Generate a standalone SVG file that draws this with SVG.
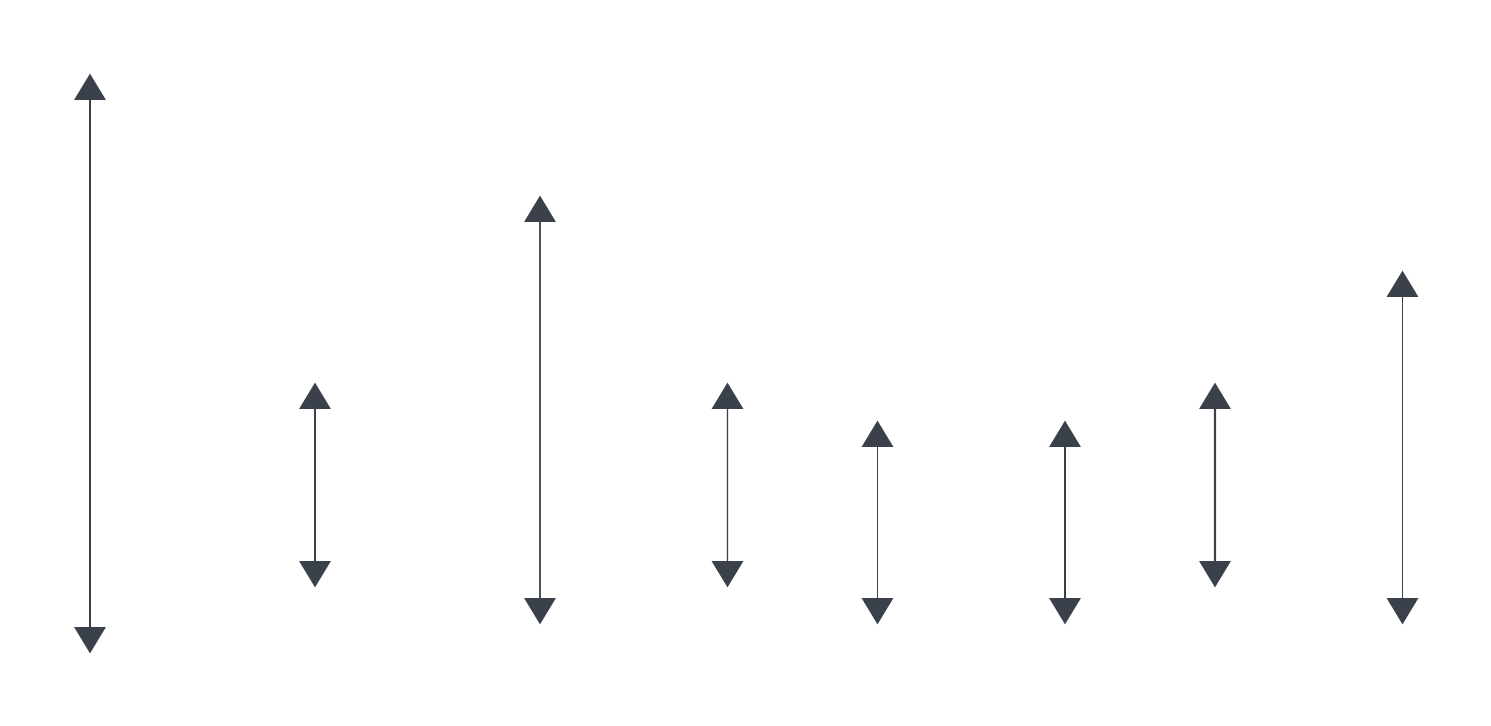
<svg xmlns="http://www.w3.org/2000/svg" width="1491" height="726" viewBox="0 0 1491 726">
<defs>
<style>
.c{stroke:#3a414b;fill:none}
</style>
<marker id="ah" markerUnits="userSpaceOnUse" markerWidth="27" markerHeight="33" viewBox="0 -16.5 27 33" refX="0" refY="0" orient="auto-start-reverse" overflow="visible">
<path d="M0,-16 L26.5,0 L0,16 z" fill="#3a414b"/>
</marker>
</defs>
<rect width="1491" height="726" fill="#ffffff"/>
<g id="connectors">
<line class="c" x1="90" y1="100" x2="90" y2="627" stroke-width="2" marker-start="url(#ah)" marker-end="url(#ah)"/>
<line class="c" x1="315" y1="409" x2="315" y2="561" stroke-width="2" marker-start="url(#ah)" marker-end="url(#ah)"/>
<line class="c" x1="540" y1="222" x2="540" y2="598" stroke-width="1.8" marker-start="url(#ah)" marker-end="url(#ah)"/>
<line class="c" x1="727.5" y1="409" x2="727.5" y2="561" stroke-width="1.3" marker-start="url(#ah)" marker-end="url(#ah)"/>
<line class="c" x1="877.5" y1="447" x2="877.5" y2="598" stroke-width="1" marker-start="url(#ah)" marker-end="url(#ah)"/>
<line class="c" x1="1065" y1="447" x2="1065" y2="598" stroke-width="2" marker-start="url(#ah)" marker-end="url(#ah)"/>
<line class="c" x1="1215" y1="409" x2="1215" y2="561" stroke-width="2.2" marker-start="url(#ah)" marker-end="url(#ah)"/>
<line class="c" x1="1402.5" y1="297" x2="1402.5" y2="598" stroke-width="1" marker-start="url(#ah)" marker-end="url(#ah)"/>
</g>
</svg>
